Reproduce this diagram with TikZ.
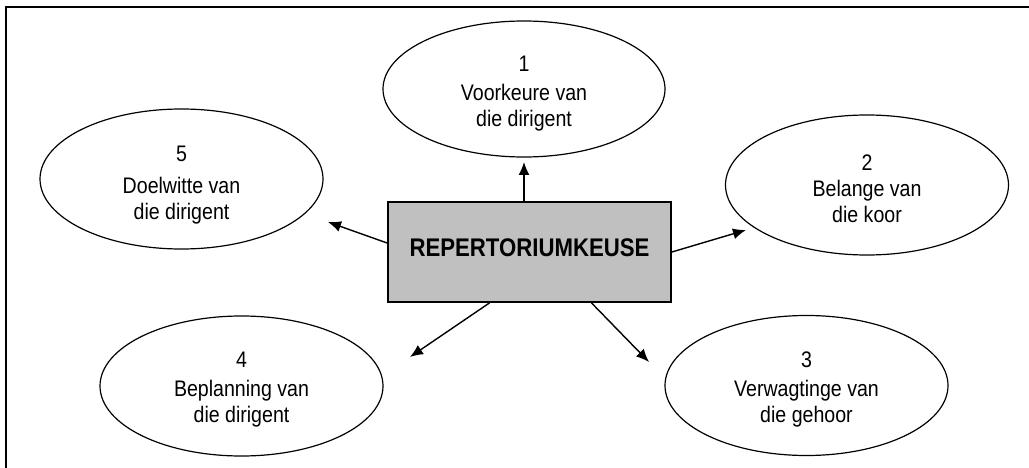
\documentclass[tikz,border=0pt]{standalone}
\usepackage{fontspec}
\setmainfont{Liberation Sans}[FakeStretch=0.87]
\usetikzlibrary{shapes.geometric,arrows.meta}
\definecolor{boxgray}{HTML}{C0C0C0}
\begin{document}
\begin{tikzpicture}[x=1pt,y=-1pt,
  ell/.style={draw, ellipse, line width=1.2pt, minimum width=283pt, minimum height=140pt, inner sep=0pt},
  lbl/.style={align=center, inner sep=0pt, anchor=north, font=\fontsize{22.5}{26}\selectfont},
  arr/.style={line width=1.4pt, -{Latex[length=13pt,width=11pt]}},
  centrebox/.style={draw, line width=1.8pt, fill=boxgray, minimum width=283pt, minimum height=100pt, inner sep=0pt, text depth=9pt, font=\bfseries\fontsize{25.5}{30}\selectfont}]
\useasboundingbox (0,0) rectangle (1029,468);
% frame (top and left only)
\draw[line width=2.3pt] (6,470) -- (6,7) -- (1031,7);
% central box
\node[centrebox] (c) at (529.5,252) {REPERTORIUMKEUSE};
% ellipses
\node[ell, minimum width=282pt, minimum height=136pt] (e1) at (524,89) {};
\node[ell] (e2) at (867,185) {};
\node[ell] (e3) at (806.5,385.5) {};
\node[ell] (e4) at (241.5,386) {};
\node[ell] (e5) at (181.5,179) {};
% labels
\node[lbl] (t1) at ([yshift=33pt]e1.center) {1\\[3pt]Voorkeure van\\die dirigent};
\node[lbl] (t2) at ([yshift=30pt]e2.center) {2\\[0pt]Belange van\\die koor};
\node[lbl] (t3) at ([yshift=34pt]e3.center) {3\\[3pt]Verwagtinge van\\die gehoor};
\node[lbl] (t4) at ([yshift=34pt]e4.center) {4\\[3pt]Beplanning van\\die dirigent};
\node[lbl] (t5) at ([yshift=33pt]e5.center) {5\\[6pt]Doelwitte van\\die dirigent};
% arrow ends
\coordinate (p1) at (524,162);
\coordinate (p2) at (746,230);
\coordinate (p3) at (649,362);
\coordinate (p4) at (410,357);
\coordinate (p5) at (328,222);
% arrows
\draw[arr] (c.north -| p1) -- (p1);
\draw[arr] (c.east) -- (p2);
\draw[arr] ([xshift=62pt]c.south) -- (p3);
\draw[arr] ([xshift=-40pt]c.south) -- (p4);
\draw[arr] ([yshift=9pt]c.west) -- (p5);
\end{tikzpicture}
\end{document}
